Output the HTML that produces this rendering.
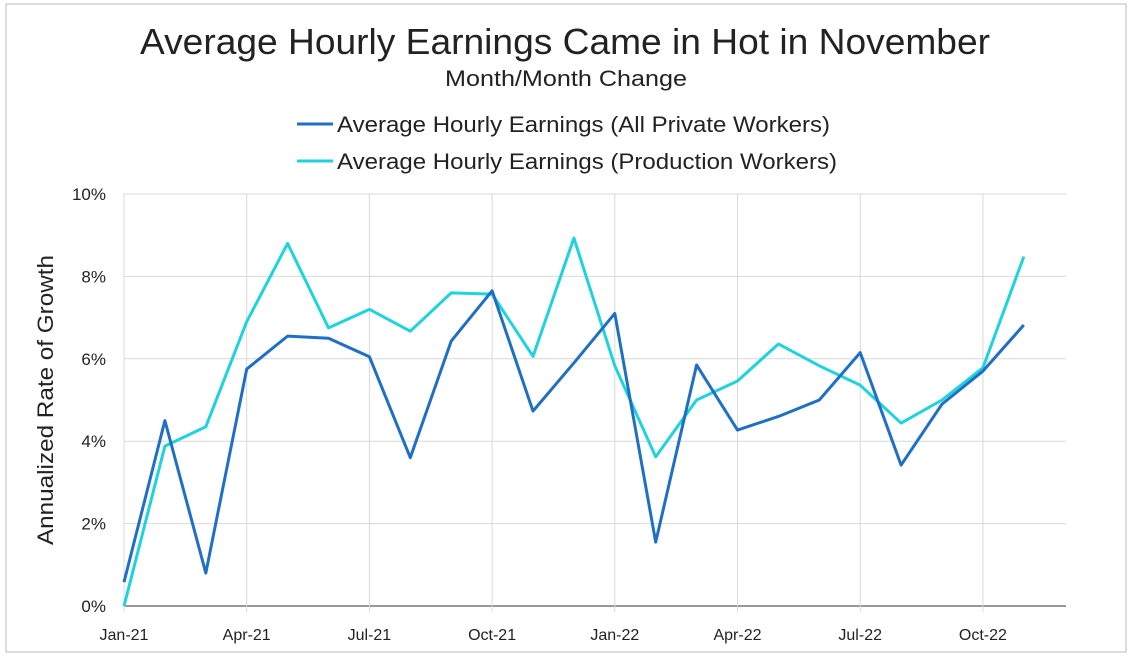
<!DOCTYPE html>
<html><head><meta charset="utf-8"><style>
body{margin:0;background:#fff;font-family:"Liberation Sans",sans-serif;}
svg text{font-family:"Liberation Sans",sans-serif;fill:#222;}
</style></head><body>
<svg id="chart" width="1132" height="656">
<rect x="6" y="4" width="1120" height="648" fill="#fff" stroke="#bbb"/>
<text x="140" y="54" font-size="36" textLength="850" lengthAdjust="spacingAndGlyphs">Average Hourly Earnings Came in Hot in November</text>
<text x="445" y="86" font-size="22" textLength="242" lengthAdjust="spacingAndGlyphs">Month/Month Change</text>
<g>
<line x1="297" y1="124" x2="333" y2="124" stroke="#1f6fc5" stroke-width="3"/>
<text x="337" y="132" font-size="22" textLength="493" lengthAdjust="spacingAndGlyphs">Average Hourly Earnings (All Private Workers)</text>
<line x1="297" y1="161" x2="333" y2="161" stroke="#1fd3dd" stroke-width="3"/>
<text x="337" y="169" font-size="22" textLength="500" lengthAdjust="spacingAndGlyphs">Average Hourly Earnings (Production Workers)</text>
</g>
<g id="grid"></g><g id="axes"></g><g id="series"></g>
<text transform="translate(53,400) rotate(-90)" font-size="22" text-anchor="middle" textLength="290" lengthAdjust="spacingAndGlyphs">Annualized Rate of Growth</text>
</svg>
<script>
const months=["Jan-21","Feb-21","Mar-21","Apr-21","May-21","Jun-21","Jul-21","Aug-21","Sep-21","Oct-21","Nov-21","Dec-21","Jan-22","Feb-22","Mar-22","Apr-22","May-22","Jun-22","Jul-22","Aug-22","Sep-22","Oct-22","Nov-22"];
const allPrivate=[0.58,4.5,0.8,5.75,6.55,6.5,6.05,3.6,6.43,7.65,4.73,5.9,7.1,1.55,5.85,4.27,4.6,5.0,6.15,3.42,4.9,5.7,6.82];
const production=[0.0,3.88,4.35,6.9,8.8,6.75,7.2,6.67,7.6,7.57,6.06,8.93,5.83,3.62,5.0,5.46,6.36,5.83,5.36,4.44,5.0,5.78,8.48];
const yTicks=[0,2,4,6,8,10];
const xTickIdx=[0,3,6,9,12,15,18,21];
const NS="http://www.w3.org/2000/svg";
const x0=124,dx=40.9,y0=606,dy=41.2,xRight=1066;
const X=i=>x0+i*dx, Y=v=>y0-v*dy;
function mk(tag,attrs,parent){const e=document.createElementNS(NS,tag);for(const k in attrs)e.setAttribute(k,attrs[k]);parent.appendChild(e);return e;}
const grid=document.getElementById('grid'),axes=document.getElementById('axes'),ser=document.getElementById('series');
yTicks.forEach(t=>{
 const l=mk('line',{x1:x0,x2:xRight,y1:Y(t),y2:Y(t),stroke:t===0?'#333':'#d9d9d9','stroke-width':1},grid);
 
 
 const tx=mk('text',{x:106,y:Y(t)+6,'font-size':17,'text-anchor':'end'},axes);
 tx.textContent=t+'%';
 
 
});
xTickIdx.forEach(i=>{
 const l=mk('line',{x1:X(i),x2:X(i),y1:Y(10),y2:y0+6,stroke:'#d9d9d9','stroke-width':1},grid);
 
 
 const tx=mk('text',{x:X(i),y:640,'font-size':16,'text-anchor':'middle'},axes);
 tx.textContent=months[i];
 
 
});
function line(vals,color,name){
 const p=mk('polyline',{points:vals.map((v,i)=>X(i)+','+Y(v)).join(' '),fill:'none',stroke:color,'stroke-width':3,'stroke-linejoin':'round'},ser);
 
 
}
line(production,'#1fd3dd','production-workers-line');
line(allPrivate,'#1f6fc5','all-private-workers-line');
</script>
</body></html>
